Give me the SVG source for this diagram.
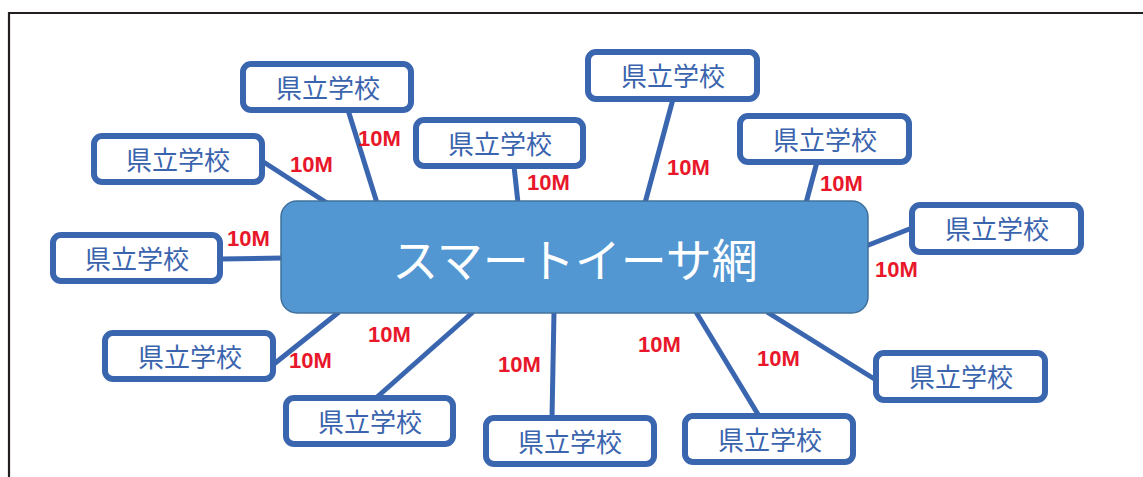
<svg xmlns="http://www.w3.org/2000/svg" width="1143" height="477" viewBox="0 0 1143 477">
<style>
.frame{fill:none;stroke:#231f20;stroke-width:2.2}
.conn line{stroke:#3a66b0;stroke-width:5}
.box{fill:#fff;stroke:#3a66b0;stroke-width:6}
.bt{font-family:"Noto Sans CJK JP","Noto Sans CJK SC",sans-serif;font-size:26px;fill:#3b64ae;text-anchor:middle}
.lbl{font-family:"Liberation Sans",Arial,sans-serif;font-size:22px;font-weight:bold;fill:#e8172a}
.hub{fill:#5397d2;stroke:#41719c;stroke-width:1.5}
.ht{font-family:"Noto Sans CJK JP","Noto Sans CJK SC",sans-serif;font-size:46px;fill:#fff;text-anchor:middle}
</style>
<rect width="1143" height="477" fill="#fff"/>
<path class="frame" d="M9,480 V13 H1145"/>
<g id="connectors" class="conn">
<line x1="348" y1="110" x2="377" y2="203"/>
<line x1="262" y1="161" x2="327" y2="203"/>
<line x1="220" y1="259" x2="283" y2="258"/>
<line x1="274" y1="364" x2="339" y2="312"/>
<line x1="376" y1="398" x2="473" y2="312"/>
<line x1="552" y1="418" x2="554" y2="312"/>
<line x1="759" y1="416" x2="696" y2="312"/>
<line x1="876" y1="380" x2="767" y2="312"/>
<line x1="912" y1="228" x2="866" y2="246"/>
<line x1="817" y1="162" x2="806" y2="203"/>
<line x1="673" y1="99" x2="645" y2="203"/>
<line x1="514" y1="166" x2="518" y2="203"/>
</g>
<g id="hub">
<rect class="hub" x="281" y="201" width="587" height="112" rx="16"/>
<text class="ht" x="575" y="277">スマートイーサ網</text>
</g>
<g id="n1"><rect class="box" x="243" y="64" width="168" height="46" rx="8"/><text class="bt" x="328" y="98">県立学校</text></g>
<g id="n2"><rect class="box" x="94" y="136" width="168" height="46" rx="8"/><text class="bt" x="178" y="170">県立学校</text></g>
<g id="n3"><rect class="box" x="53" y="235" width="167" height="46" rx="8"/><text class="bt" x="137" y="269">県立学校</text></g>
<g id="n4"><rect class="box" x="105" y="333" width="168" height="46" rx="8"/><text class="bt" x="190" y="367">県立学校</text></g>
<g id="n5"><rect class="box" x="286" y="398" width="167" height="46" rx="8"/><text class="bt" x="370" y="432">県立学校</text></g>
<g id="n6"><rect class="box" x="486" y="418" width="168" height="46" rx="8"/><text class="bt" x="570" y="452">県立学校</text></g>
<g id="n7"><rect class="box" x="685" y="416" width="168" height="46" rx="8"/><text class="bt" x="770" y="450">県立学校</text></g>
<g id="n8"><rect class="box" x="876" y="353" width="169" height="47" rx="8"/><text class="bt" x="961" y="387">県立学校</text></g>
<g id="n9"><rect class="box" x="912" y="205" width="169" height="47" rx="8"/><text class="bt" x="997" y="239">県立学校</text></g>
<g id="n10"><rect class="box" x="740" y="116" width="169" height="46" rx="8"/><text class="bt" x="825" y="150">県立学校</text></g>
<g id="n11"><rect class="box" x="588" y="52" width="169" height="47" rx="8"/><text class="bt" x="673" y="86">県立学校</text></g>
<g id="n12"><rect class="box" x="416" y="120" width="167" height="46" rx="8"/><text class="bt" x="500" y="154">県立学校</text></g>
<g id="labels">
<text class="lbl" x="358" y="146">10M</text>
<text class="lbl" x="290" y="172">10M</text>
<text class="lbl" x="527" y="190">10M</text>
<text class="lbl" x="667" y="175">10M</text>
<text class="lbl" x="820" y="191">10M</text>
<text class="lbl" x="875" y="277">10M</text>
<text class="lbl" x="227" y="246">10M</text>
<text class="lbl" x="289" y="368">10M</text>
<text class="lbl" x="368" y="342">10M</text>
<text class="lbl" x="498" y="372">10M</text>
<text class="lbl" x="638" y="352">10M</text>
<text class="lbl" x="757" y="366">10M</text>
</g>
</svg>
